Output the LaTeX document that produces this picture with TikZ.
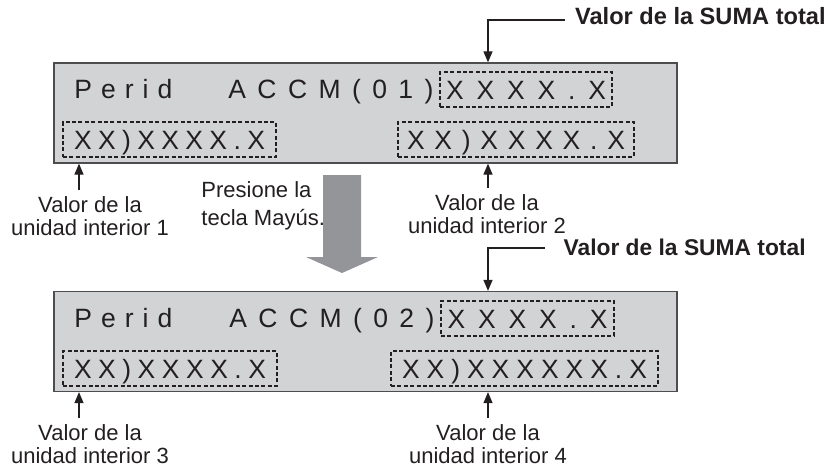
\documentclass[tikz,border=0pt]{standalone}
\usepackage{fontspec}
\setmainfont{Liberation Sans}
\usetikzlibrary{arrows.meta}
\makeatletter
\def\sp@loop#1{\ifx#1\relax\else\hfil#1\expandafter\sp@loop\fi}
\def\sp@start#1{#1\sp@loop}
\newcommand\spreadtext[2]{\makebox[#1][s]{\sp@start#2\relax}}
\makeatother
\definecolor{panelfill}{HTML}{D1D3D4}
\definecolor{panelline}{HTML}{4D4D4F}
\definecolor{arrowgray}{HTML}{939598}
\definecolor{ink}{HTML}{231F20}
\begin{document}
\begin{tikzpicture}[x=0.5pt,y=-0.5pt,
  panel/.style={draw=panelline, fill=panelfill, line width=0.65pt, inner sep=0pt, minimum width=311.5pt, minimum height=50pt},
  dbox/.style={draw=ink, dash pattern=on 2pt off 1.2pt, line width=0.8pt, inner sep=0pt, minimum height=17.5pt, text height=9.5pt, text depth=0pt, font=\fontsize{13.25pt}{15pt}\selectfont, text=ink},
  lcd/.style={font=\fontsize{13.25pt}{15pt}\selectfont, inner sep=0pt, anchor=base west, text=ink},
  lbl/.style={font=\fontsize{11pt}{11.5pt}\selectfont, align=center, inner sep=0pt, anchor=north, text=ink},
  ttl/.style={font=\bfseries\fontsize{11.8pt}{14pt}\selectfont, inner sep=0pt, anchor=base east, text=ink},
  ptr/.style={-{Triangle[width=4.5pt,length=5.5pt]}, line width=0.65pt, draw=ink}]
\useasboundingbox (0,0) rectangle (828,465);

% ---------- panel 1 ----------
\node[panel] (p1) at (365.5,113) {};
\node[lcd] (perid1) at (74,98) {\spreadtext{49pt}{Perid}};
\node[lcd] (accm1) at (228,98) {\spreadtext{102.5pt}{ACCM(01)}};
\node[dbox, minimum width=86pt] (sum1) at (526,89.5) {\spreadtext{80pt}{XXXX.X}};
\node[dbox, minimum width=106.5pt] (u1) at (169.5,139.5) {\spreadtext{95.5pt}{XX)XXXX.X}};
\node[dbox, minimum width=118pt] (u2) at (516,139.5) {\spreadtext{109pt}{XX)XXXX.X}};

% ---------- panel 2 ----------
\node[panel] (p2) at (365.5,341.5) {};
\node[lcd] (perid2) at (74,327) {\spreadtext{49pt}{Perid}};
\node[lcd] (accm2) at (229,327) {\spreadtext{102.5pt}{ACCM(02)}};
\node[dbox, minimum width=86.5pt] (sum2) at (527.5,318.5) {\spreadtext{80pt}{XXXX.X}};
\node[dbox, minimum width=107pt] (u3) at (170,368.5) {\spreadtext{96pt}{XX)XXXX.X}};
\node[dbox, minimum width=133.5pt] (u4) at (524.5,368.5) {\spreadtext{122.5pt}{XX)XXXXXX.X}};

% ---------- titles ----------
\node[ttl] (t1) at (826,24.5) {Valor de la SUMA total};
\node[ttl, font=\bfseries\fontsize{11.4pt}{14pt}\selectfont] (t2) at (806,255) {Valor de la SUMA total};
\coordinate (e1) at (565,20);
\coordinate (k1) at (488,20);
\draw[ptr] (e1) -- (k1) -- (k1 |- p1.north);
\coordinate (e2) at (545,248);
\coordinate (k2) at (488,248);
\draw[ptr] (e2) -- (k2) -- (k2 |- p2.north);

% ---------- labels ----------
\node[lbl] (l1) at (90,196) {Valor de la\\unidad interior 1};
\node[lbl] (l2) at (487,194) {Valor de la\\unidad interior 2};
\node[lbl] (l3) at (90,424) {Valor de la\\unidad interior 3};
\node[lbl] (l4) at (488,424) {Valor de la\\unidad interior 4};
\node[lbl, align=left, anchor=north west, font=\fontsize{11pt}{14pt}\selectfont] (shift) at (201,181) {Presione la\\tecla Mayús.};

\coordinate (a1) at (79,190);
\coordinate (a2) at (488,188);
\coordinate (a3) at (79,418);
\coordinate (a4) at (488,418);
\draw[ptr] (a1) -- (a1 |- p1.south);
\draw[ptr] (a2) -- (a2 |- p1.south);
\draw[ptr] (a3) -- (a3 |- p2.south);
\draw[ptr] (a4) -- (a4 |- p2.south);

% ---------- big gray arrow ----------
\fill[arrowgray] (323,175) -- (361,175) -- (361,257) -- (378,257) -- (342,273) -- (306,257) -- (323,257) -- cycle;
\end{tikzpicture}
\end{document}
